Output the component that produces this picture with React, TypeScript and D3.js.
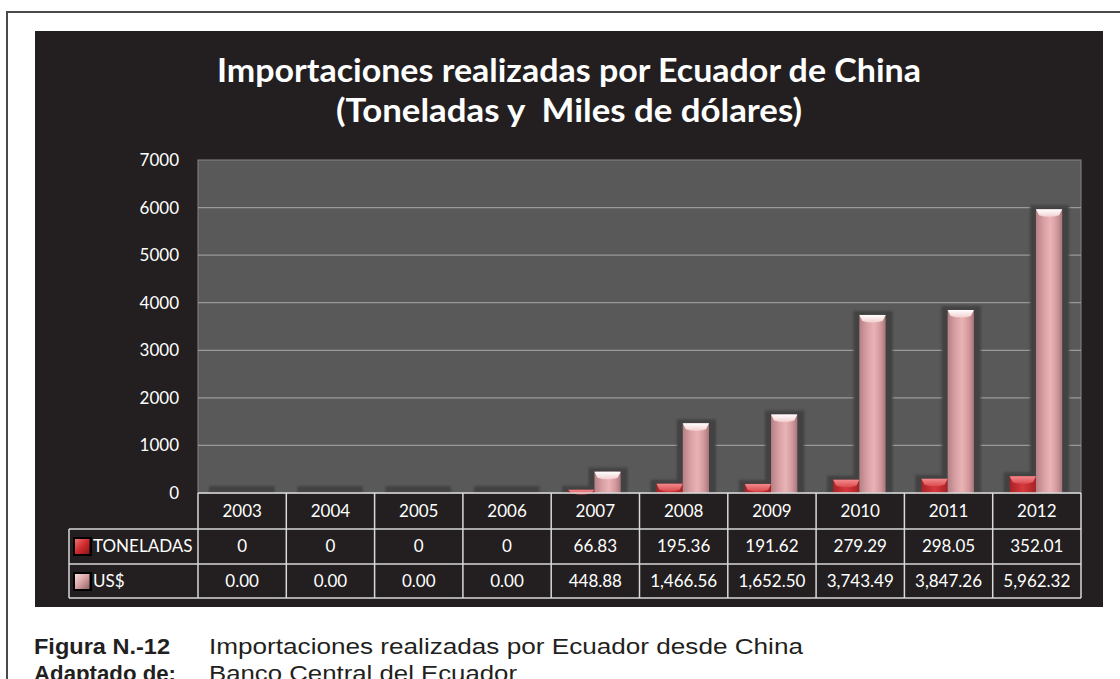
import React from "react";
import * as d3 from "d3";

const years = ["2003", "2004", "2005", "2006", "2007", "2008", "2009", "2010", "2011", "2012"];
const toneladas = [0, 0, 0, 0, 66.83, 195.36, 191.62, 279.29, 298.05, 352.01];
const usd = [0, 0, 0, 0, 448.88, 1466.56, 1652.5, 3743.49, 3847.26, 5962.32];
const toneladasLabels = ["0", "0", "0", "0", "66.83", "195.36", "191.62", "279.29", "298.05", "352.01"];
const usdLabels = ["0.00", "0.00", "0.00", "0.00", "448.88", "1,466.56", "1,652.50", "3,743.49", "3,847.26", "5,962.32"];
const seriesNames = ["TONELADAS", "US$"];
const yTicks = [0, 1000, 2000, 3000, 4000, 5000, 6000, 7000];
const titleLines = ["Importaciones realizadas por Ecuador de China", "(Toneladas y  Miles de dólares)"];

const W = 1120;
const H = 679;
const plot = { left: 198, right: 1081, top: 160, bottom: 493 };
const rowH = 35;
const legendLeft = 69;
const font = "Lato, 'Open Sans', sans-serif";

export default function App() {
  const x = d3.scaleBand<string>().domain(years).range([plot.left, plot.right]).padding(0);
  const y = d3.scaleLinear().domain([0, 7000]).range([plot.bottom, plot.top]);
  const inner = d3.scaleBand<string>().domain(seriesNames).range([17, 69.5]).padding(0);
  const bw = inner.bandwidth();
  const seriesData = [toneladas, usd];

  const rowTops = [plot.bottom, plot.bottom + rowH + 1, plot.bottom + 2 * rowH + 1];
  const tableBottom = plot.bottom + 3 * rowH;

  const bars: any[] = [];
  seriesNames.forEach((s, si) => {
    seriesData[si].forEach((v, i) => {
      const bx = (x(years[i]) as number) + (inner(s) as number);
      const by = y(v);
      bars.push({ s, si, i, v, bx, by, h: plot.bottom - by });
    });
  });

  return (
    <svg width={W} height={H} style={{ position: "absolute", left: 0, top: 0, background: "#fff" }}>
      <defs>
        <linearGradient id="pinkBody" x1="0" x2="1" y1="0" y2="0">
          <stop offset="0" stopColor="#b58085" />
          <stop offset="0.3" stopColor="#d9a0a4" />
          <stop offset="0.55" stopColor="#e9b3b6" />
          <stop offset="0.8" stopColor="#d39a9e" />
          <stop offset="1" stopColor="#a9767a" />
        </linearGradient>
        <linearGradient id="pinkCap" x1="0" x2="0" y1="0" y2="1">
          <stop offset="0" stopColor="#ffffff" />
          <stop offset="1" stopColor="#f2cfd0" />
        </linearGradient>
        <linearGradient id="redBody" x1="0" x2="1" y1="0" y2="0">
          <stop offset="0" stopColor="#a52226" />
          <stop offset="0.5" stopColor="#d8383c" />
          <stop offset="1" stopColor="#a52226" />
        </linearGradient>
        <linearGradient id="redCap" x1="0" x2="0" y1="0" y2="1">
          <stop offset="0" stopColor="#f28a8c" />
          <stop offset="1" stopColor="#dc4a4e" />
        </linearGradient>
        <linearGradient id="redMark" x1="0" x2="1" y1="0" y2="1">
          <stop offset="0" stopColor="#f07070" />
          <stop offset="0.5" stopColor="#d02a2e" />
          <stop offset="1" stopColor="#8a1518" />
        </linearGradient>
        <linearGradient id="pinkMark" x1="0" x2="1" y1="0" y2="1">
          <stop offset="0" stopColor="#f8dcdc" />
          <stop offset="0.5" stopColor="#d8a0a3" />
          <stop offset="1" stopColor="#8f6266" />
        </linearGradient>
        <filter id="blur" x="-20%" y="-20%" width="140%" height="140%">
          <feGaussianBlur stdDeviation="1.2" />
        </filter>
        <clipPath id="plotClip">
          <rect x={plot.left} y={plot.top} width={plot.right - plot.left} height={plot.bottom - plot.top} />
        </clipPath>
      </defs>

      {/* outer page frame */}
      <rect x={7} y={12} width={1300} height={900} fill="none" stroke="#4a4a4a" strokeWidth={2} />

      {/* chart background */}
      <rect x={35} y={31} width={1068} height={576} fill="#231f20" />

      {/* title */}
      {titleLines.map((t, k) => (
        <text
          key={k}
          x={569}
          y={82 + k * 40}
          textAnchor="middle"
          fill="#ffffff"
          fontFamily={font}
          fontWeight="bold"
          fontSize={33}
          textLength={k === 0 ? 704 : 466}
          lengthAdjust="spacingAndGlyphs"
          style={{ whiteSpace: "pre" }}
        >
          {t}
        </text>
      ))}

      {/* plot area */}
      <rect x={plot.left} y={plot.top} width={plot.right - plot.left} height={plot.bottom - plot.top} fill="#595959" stroke="#858585" strokeWidth={1} />

      {/* gridlines */}
      {yTicks.filter((t) => t > 0 && t < 7000).map((t) => (
        <line key={t} x1={plot.left} x2={plot.right} y1={y(t)} y2={y(t)} stroke="#9a9a9a" strokeWidth={1.2} />
      ))}

      {/* y tick labels */}
      {yTicks.map((t) => (
        <text key={t} x={179} y={y(t)} dy="0.35em" textAnchor="end" fill="#ffffff" fontFamily={font} fontSize={17}>
          {t}
        </text>
      ))}

      {/* bar shadows */}
      <g clipPath="url(#plotClip)" filter="url(#blur)">
        {bars.map((b) => (
          <rect
            key={"sh" + b.s + b.i}
            x={b.bx - 6}
            y={Math.min(b.by - 4, plot.bottom - 7)}
            width={bw + 13}
            height={plot.bottom - Math.min(b.by - 4, plot.bottom - 7)}
            fill="#434343"
          />
        ))}
      </g>

      {/* bars */}
      {bars.filter((b) => b.h > 0).map((b) => {
        const cap = Math.min(6, b.h);
        const isRed = b.si === 0;
        return (
          <g key={"b" + b.s + b.i}>
            <rect x={b.bx} y={b.by} width={bw} height={b.h} fill={isRed ? "url(#redBody)" : "url(#pinkBody)"} />
            <path
              d={`M${b.bx},${b.by} L${b.bx + bw},${b.by} L${b.bx + bw - 3},${b.by + cap} Q${b.bx + bw / 2},${b.by + cap + 3} ${b.bx + 3},${b.by + cap} Z`}
              fill={isRed ? "url(#redCap)" : "url(#pinkCap)"}
            />
          </g>
        );
      })}

      {/* table */}
      <g stroke="#d9d9d9" strokeWidth={1.5}>
        <line x1={plot.left} x2={plot.right} y1={plot.bottom} y2={plot.bottom} />
        <line x1={legendLeft} x2={plot.right} y1={rowTops[1]} y2={rowTops[1]} />
        <line x1={legendLeft} x2={plot.right} y1={rowTops[2]} y2={rowTops[2]} />
        <line x1={legendLeft} x2={plot.right} y1={tableBottom} y2={tableBottom} />
        <line x1={legendLeft} x2={legendLeft} y1={rowTops[1]} y2={tableBottom} />
        {years.map((yr) => (
          <line key={yr} x1={x(yr) as number} x2={x(yr) as number} y1={plot.bottom} y2={tableBottom} />
        ))}
        <line x1={plot.right} x2={plot.right} y1={plot.bottom} y2={tableBottom} />
      </g>

      {years.map((yr, i) => {
        const cx = (x(yr) as number) + x.bandwidth() / 2;
        return (
          <g key={"t" + yr} fontFamily={font} fontSize={17} fill="#ffffff" textAnchor="middle">
            <text x={cx} y={rowTops[0] + rowH / 2 + 1} dy="0.35em">{yr}</text>
            <text x={cx} y={rowTops[1] + rowH / 2} dy="0.35em">{toneladasLabels[i]}</text>
            <text x={cx} y={rowTops[2] + rowH / 2} dy="0.35em">{usdLabels[i]}</text>
          </g>
        );
      })}

      {/* legend keys */}
      {seriesNames.map((s, k) => {
        const top = rowTops[k + 1];
        const cy = top + rowH / 2;
        return (
          <g key={"lg" + s}>
            <rect x={73} y={cy - 9.5} width={19} height={19} fill="#000000" />
            <rect x={75} y={cy - 7.5} width={14.5} height={15} fill={k === 0 ? "url(#redMark)" : "url(#pinkMark)"} />
            <text x={93} y={cy} dy="0.35em" fill="#ffffff" fontFamily={font} fontSize={17}>
              {s}
            </text>
          </g>
        );
      })}

      {/* caption */}
      <g fontFamily="'Liberation Sans', Arial, sans-serif" fill="#231f20" fontSize={22}>
        <text x={34} y={654} fontWeight="bold" textLength={136} lengthAdjust="spacingAndGlyphs">Figura N.-12</text>
        <text x={209} y={654} textLength={594} lengthAdjust="spacingAndGlyphs">Importaciones realizadas por Ecuador desde China</text>
        <text x={34} y={681} fontWeight="bold" textLength={142} lengthAdjust="spacingAndGlyphs">Adaptado de:</text>
        <text x={209} y={681} textLength={308} lengthAdjust="spacingAndGlyphs">Banco Central del Ecuador</text>
      </g>
    </svg>
  );
}
